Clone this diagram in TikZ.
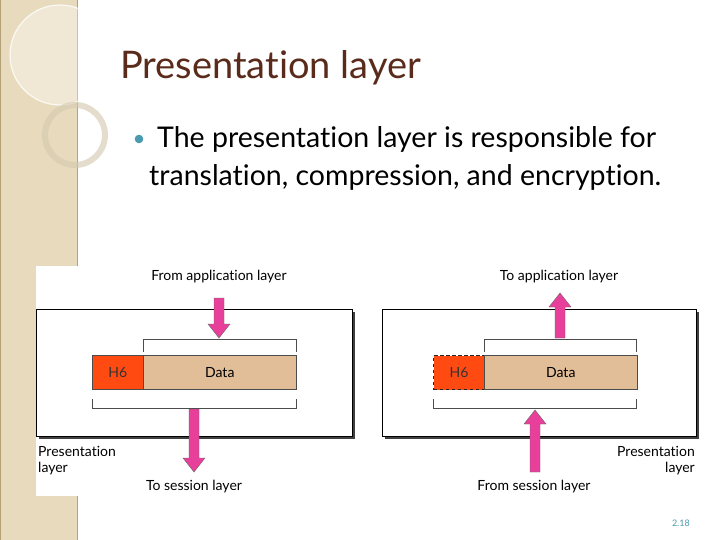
\documentclass[tikz,border=0pt]{standalone}
\usepackage{fontspec}
\setmainfont[Ligatures=NoCommon]{Lato}
\definecolor{strip}{HTML}{E8DBBD}
\definecolor{stripdk}{HTML}{B5A178}
\definecolor{titlec}{HTML}{5A2A1A}
\definecolor{bul}{HTML}{4A9AB0}
\definecolor{hred}{HTML}{FF4A12}
\definecolor{dtan}{HTML}{E2BE98}
\definecolor{pink}{HTML}{E8409A}
\tikzset{
 layerbox/.style={draw=black, fill=white, line width=0.8pt},
 lbl/.style={font=\fontsize{14}{16}\selectfont, inner sep=0pt},
 hbox/.style={draw=black!70, fill=hred, line width=0.6pt, minimum width=51pt, minimum height=34pt, inner sep=0pt, font=\fontsize{14}{16}\selectfont},
 dbox/.style={draw=black!70, fill=dtan, line width=0.6pt, minimum width=153pt, minimum height=34pt, inner sep=0pt, font=\fontsize{14}{16}\selectfont},
 brk/.style={draw=black!70, line width=0.6pt},
 parrow/.style={fill=pink, draw=black!60, line width=0.4pt}
}
\newcommand{\downarr}[3]{% x, ytop, ybot(tip)
 \filldraw[parrow] (#1-5,#2) -- (#1+5,#2) -- (#1+5,#3-14) -- (#1+11,#3-14) -- (#1,#3) -- (#1-11,#3-14) -- (#1-5,#3-14) -- cycle;}
\newcommand{\uparr}[3]{% x, ybot, ytop(tip)
 \filldraw[parrow] (#1-5,#2) -- (#1+5,#2) -- (#1+5,#3+14) -- (#1+11,#3+14) -- (#1,#3) -- (#1-11,#3+14) -- (#1-5,#3+14) -- cycle;}
\begin{document}
\begin{tikzpicture}[x=1pt,y=-1pt]
\useasboundingbox (0,0) rectangle (720,540);
\fill[white] (0,0) rectangle (720,540);
% left strip
\fill[strip] (0,0) rectangle (78,540);
\draw[stripdk, line width=1.2pt] (77.5,0) -- (77.5,540);
\draw[stripdk, line width=1pt] (0.5,0) -- (0.5,540);
\fill[white, opacity=0.35] (60,55) circle (50);
\draw[white, line width=1.2pt, opacity=0.8] (60,55) circle (50);
\draw[stripdk!60, line width=6pt, opacity=0.6] (75,135) circle (30);
% white panel
\fill[white] (36,266) rectangle (705,496);
% title
\node[anchor=base west, inner sep=0pt, text=titlec, font=\fontsize{38}{42}\selectfont] (title) at (120,79) {Presentation layer};
\fill[bul] (139,139) circle (4.3);
\node[anchor=base west, inner sep=0pt, font=\fontsize{28.5}{32}\selectfont] (l1) at (157,148) {The presentation layer is responsible for};
\node[anchor=base west, inner sep=0pt, font=\fontsize{28.5}{32}\selectfont] (l2) at (149,186) {translation, compression, and encryption.};
% left diagram
\fill[black!75] (39,312) rectangle (355,439);
\draw[layerbox] (36,309) rectangle (352,436);
\node[hbox, anchor=north west, text=black!80] (h6a) at (92,355) {H6};
\node[dbox, anchor=north west] (da) at (143,355) {Data};
\draw[brk] (143,352) -- (143,339) -- (296,339) -- (296,352);
\draw[brk] (92,399) -- (92,408) -- (296,408) -- (296,399);
\downarr{219}{298}{338}
\downarr{194}{409}{472}
\node[lbl] (fa) at (219,277) {From application layer};
\node[lbl] (ts) at (194,487) {To session layer};
\node[lbl, anchor=north west, align=left] (pl1) at (38,446) {Presentation\\layer};
% right diagram
\fill[black!75] (385,312) rectangle (699,439);
\draw[layerbox] (382,309) rectangle (696,436);
\node[hbox, anchor=north west, draw=black!85, line width=1pt, dash pattern=on 3.5pt off 2.5pt, text=black!80] (h6b) at (433,355) {H6};
\node[dbox, anchor=north west] (db) at (484,355) {Data};
\draw[brk] (484,352) -- (484,339) -- (636,339) -- (636,352);
\draw[brk] (433,399) -- (433,408) -- (636,408) -- (636,399);
\uparr{560}{338}{293}
\uparr{535}{472}{410}
\node[lbl] (ta) at (559,277) {To application layer};
\node[lbl] (fs) at (534,487) {From session layer};
\node[lbl, anchor=north east, align=right] (pl2) at (695,446) {Presentation\\layer};
\node[anchor=base east, inner sep=0pt, text=bul, font=\fontsize{9}{10}\selectfont] (pg) at (690,526) {2.18};
\end{tikzpicture}
\end{document}
